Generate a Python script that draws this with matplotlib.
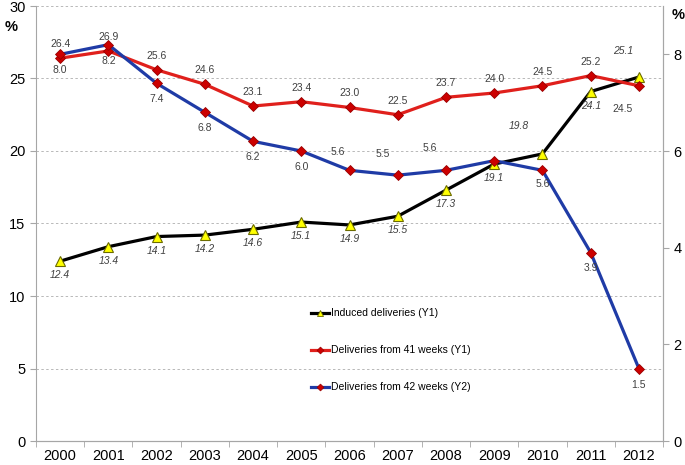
import numpy as np
import matplotlib
matplotlib.use("Agg")
import matplotlib.pyplot as plt
from matplotlib.lines import Line2D

plt.rcParams["font.family"] = ["Liberation Sans", "DejaVu Sans"]

# ===============================
# data
# ===============================
years = [2000, 2001, 2002, 2003, 2004, 2005, 2006, 2007, 2008, 2009, 2010, 2011, 2012]
induced = [12.4, 13.4, 14.1, 14.2, 14.6, 15.1, 14.9, 15.5, 17.3, 19.1, 19.8, 24.1, 25.1]
from41 = [26.4, 26.9, 25.6, 24.6, 23.1, 23.4, 23.0, 22.5, 23.7, 24.0, 24.5, 25.2, 24.5]
from42 = [8.0, 8.2, 7.4, 6.8, 6.2, 6.0, 5.6, 5.5, 5.6, 5.8, 5.6, 3.9, 1.5]
show42 = [True] * 9 + [False] + [True] * 3

# label offsets in pixels (dx, dy), dy positive = up
off_ind = [(0, -14)] * 10 + [(-24, 28), (0, -14), (-16, 26)]
off_41 = [(0, 14)] * 12 + [(-16, -23)]
off_42 = [(0, -16)] * 6 + [(-12, 18), (-15, 21), (-16, 22), (0, 0), (0, -14), (0, -15), (0, -16)]

px = 72 / 100  # pixel -> points

fig = plt.figure(figsize=(6.85, 4.65), dpi=100)
ax = fig.add_axes([36 / 685, 1 - 441 / 465, 627 / 685, 435 / 465])
ax2 = ax.twinx()

x = np.arange(len(years))

grey = "#a6a6a6"
ax.set_xlim(-0.5, len(years) - 0.5)
ax.set_ylim(0, 30)
ax2.set_ylim(0, 9)
ax.set_yticks(range(0, 31, 5))
ax2.set_yticks(range(0, 9, 2))
ax.set_xticks(x)
ax.set_xticklabels([str(y) for y in years], fontsize=10.5)
ax.set_xticks(np.arange(-0.5, len(years), 1), minor=True)
ax.tick_params(axis="x", which="major", length=0, pad=6)
ax.tick_params(axis="x", which="minor", length=4, color=grey)
ax.tick_params(axis="y", labelsize=10.5, length=4, color=grey)
ax2.tick_params(axis="y", labelsize=10.5, length=4, color=grey)

for a in (ax, ax2):
    a.spines["top"].set_visible(False)
    for s in ("left", "right", "bottom"):
        a.spines[s].set_color(grey)
ax2.spines["left"].set_visible(False)

for v in range(5, 31, 5):
    ax.axhline(v, color="#b8b8b8", lw=0.7, ls=(0, (2.5, 2.5)), zorder=0)

ax.plot(x, induced, color="black", lw=2.3, marker="^", ms=7.5,
        mfc="#ffff00", mec="#6b6b00", mew=0.8, zorder=3)
ax.plot(x, from41, color="#e0201c", lw=2.3, marker="D", ms=5.5,
        mfc="#cc0000", mec="#990000", mew=0.6, zorder=3)
ax2.plot(x, from42, color="#1f3ba6", lw=2.3, marker="D", ms=5.5,
         mfc="#cc0000", mec="#990000", mew=0.6, zorder=3)

lab_col = "#404040"
for i in range(len(years)):
    ax.annotate(f"{induced[i]:.1f}", (x[i], induced[i]), xytext=(off_ind[i][0] * px, off_ind[i][1] * px),
                textcoords="offset points", ha="center", va="center", fontsize=7.5,
                style="italic", color=lab_col)
    ax.annotate(f"{from41[i]:.1f}", (x[i], from41[i]), xytext=(off_41[i][0] * px, off_41[i][1] * px),
                textcoords="offset points", ha="center", va="center", fontsize=7.5, color=lab_col)
    if show42[i]:
        ax2.annotate(f"{from42[i]:.1f}", (x[i], from42[i]), xytext=(off_42[i][0] * px, off_42[i][1] * px),
                     textcoords="offset points", ha="center", va="center", fontsize=7.5, color=lab_col)

fig.text(5 / 685, 1 - 27 / 465, "%", fontsize=10.5, fontweight="bold", va="center")
fig.text(672 / 685, 1 - 15 / 465, "%", fontsize=10.5, fontweight="bold", va="center")

handles = [
    Line2D([], [], color="black", lw=2.3, marker="^", ms=5, mfc="#ffff00", mec="#6b6b00", mew=0.6),
    Line2D([], [], color="#e0201c", lw=2.3, marker="D", ms=3.5, mfc="#cc0000", mec="#990000", mew=0.5),
    Line2D([], [], color="#1f3ba6", lw=2.3, marker="D", ms=3.5, mfc="#cc0000", mec="#990000", mew=0.5),
]
labels = ["Induced deliveries (Y1)", "Deliveries from 41 weeks (Y1)", "Deliveries from 42 weeks (Y2)"]
ax2.legend(handles, labels, loc="upper left", bbox_to_anchor=(0.438, 0.305), frameon=False,
           fontsize=7.5, labelspacing=2.6, handlelength=1.8, handletextpad=0.15,
           borderpad=0, borderaxespad=0)

plt.savefig("out.png", dpi=100)
